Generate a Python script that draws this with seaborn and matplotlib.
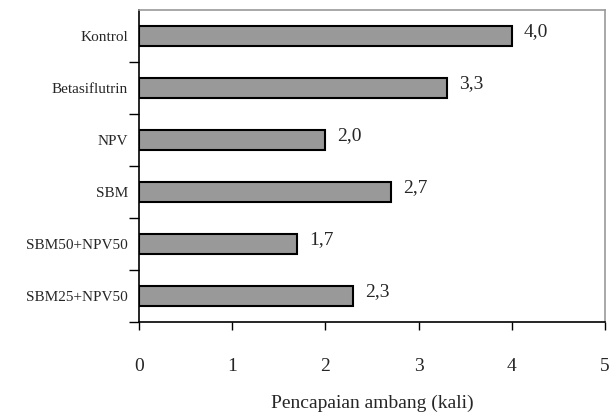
import matplotlib
matplotlib.use("Agg")
import matplotlib.pyplot as plt
import seaborn as sns
import pandas as pd

categories = ["Kontrol", "Betasiflutrin", "NPV", "SBM", "SBM50+NPV50", "SBM25+NPV50"]
values = [4.0, 3.3, 2.0, 2.7, 1.7, 2.3]
value_labels = ["4,0", "3,3", "2,0", "2,7", "1,7", "2,3"]
x_ticks = [0, 1, 2, 3, 4, 5]
x_label = "Pencapaian ambang (kali)"

sns.set_theme(style="white")
plt.rcParams['font.family'] = ['Liberation Serif', 'DejaVu Serif']

df = pd.DataFrame({"cat": categories, "val": values})

fig = plt.figure(figsize=(6.16, 4.19), dpi=100)
ax = fig.add_axes([139/616, 1 - 322/419, (605-139)/616, (322-10)/419])

sns.barplot(data=df, x="val", y="cat", ax=ax, color="#999999", width=0.4,
            edgecolor="black", linewidth=1.5, saturation=1)

ax.set_xlim(0, 5)
ax.set_ylim(5.5, -0.5)
ax.set_xticks(x_ticks)
ax.set_xticklabels([str(t) for t in x_ticks], fontsize=14)
ax.set_yticks(range(len(categories)))
ax.set_yticklabels(categories, fontsize=11)
ax.tick_params(axis='y', length=0, pad=8)
ax.tick_params(axis='x', length=6, width=1, direction='out', pad=20, color='black', bottom=True)
# category boundary ticks on y
ax.set_yticks([i + 0.5 for i in range(len(categories))], minor=True)
ax.tick_params(axis='y', which='minor', length=7, width=1, left=True, color='black')

ax.set_xlabel(x_label, fontsize=14, labelpad=14)
ax.set_ylabel("")

for s in ['left', 'bottom']:
    ax.spines[s].set_color('black')
    ax.spines[s].set_linewidth(1.2)
for s in ['top', 'right']:
    ax.spines[s].set_color('#999999')
    ax.spines[s].set_linewidth(1.2)

for i, (v, lab) in enumerate(zip(values, value_labels)):
    ax.text(v + 0.13, i - 0.08, lab, fontsize=14, va='center', ha='left')

fig.savefig("out.png", dpi=100)
